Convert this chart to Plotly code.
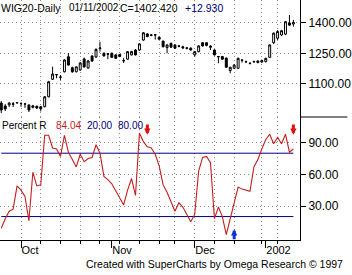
import plotly.graph_objects as go

# ---------------- data ----------------
bars = list(range(75))
opens = [1006, 992, 997, 1000, 1007, 1004, 1001, 997, 985, 990, 988, 988, 1037, 1123, 1145, 1133,
         1160, 1234, 1180, 1160, 1169, 1223, 1179, 1238, 1233, 1274, 1251, 1248, 1251, 1243, 1245,
         1215, 1222, 1243, 1267, 1267, 1316, 1346, 1341, 1342, 1330, 1311, 1279, 1300, 1292, 1287,
         1283, 1277, 1276, 1243, 1259, 1303, 1303, 1280, 1267, 1235, 1235, 1227, 1166, 1177, 1177,
         1218, 1210, 1202, 1209, 1205, 1208, 1210, 1231, 1303, 1325, 1341, 1345, 1400, 1395]
highs = [1016, 1001, 1011, 1011, 1010, 1006, 1002, 999, 997, 994, 992, 1040, 1115, 1185, 1147, 1144,
         1222, 1252, 1185, 1187, 1208, 1230, 1218, 1240, 1275, 1308, 1255, 1249, 1254, 1246, 1248,
         1228, 1262, 1263, 1272, 1300, 1355, 1350, 1346, 1342, 1333, 1313, 1295, 1303, 1295, 1292,
         1288, 1282, 1280, 1262, 1290, 1306, 1306, 1290, 1270, 1236, 1238, 1230, 1184, 1197, 1230,
         1220, 1215, 1206, 1215, 1216, 1220, 1229, 1295, 1353, 1365, 1366, 1410, 1439, 1415]
lows = [957, 967, 987, 987, 1004, 988, 982, 962, 980, 977, 965, 985, 1034, 1120, 1128, 1120,
        1157, 1190, 1155, 1157, 1165, 1180, 1175, 1208, 1228, 1259, 1235, 1222, 1228, 1223, 1232,
        1203, 1218, 1240, 1240, 1262, 1312, 1330, 1335, 1318, 1318, 1280, 1251, 1278, 1273, 1280,
        1272, 1270, 1264, 1234, 1255, 1284, 1285, 1267, 1240, 1202, 1218, 1180, 1153, 1174, 1174,
        1205, 1203, 1196, 1204, 1202, 1203, 1206, 1228, 1297, 1316, 1336, 1340, 1385, 1382]
closes = [972, 977, 1006, 1002, 1008, 1005, 1002, 972, 992, 982, 978, 1037, 1111, 1149, 1146, 1134,
          1218, 1193, 1160, 1184, 1203, 1184, 1213, 1213, 1270, 1277, 1238, 1247, 1231, 1226, 1235,
          1214, 1259, 1259, 1243, 1297, 1352, 1333, 1340, 1341, 1320, 1283, 1292, 1281, 1276, 1286,
          1278, 1276, 1267, 1259, 1287, 1287, 1290, 1286, 1243, 1234, 1222, 1182, 1182, 1193, 1226,
          1217, 1209, 1201, 1210, 1213, 1215, 1226, 1292, 1350, 1358, 1362, 1406, 1389.49, 1402.42]
pct_r = [9, 18, 25, 27, 49, 45, 39, 16, 62, 49, 50, 97, 97, 85, 84, 77, 97, 81, 74, 67, 79, 72, 75,
         76, 88, 80, 58, 55, 51, 44, 37, 31, 45, 56, 40, 99, 91, 86, 85, 79, 68, 50, 43, 33, 25, 33,
         29, 22, 15, 22, 63, 76, 77, 71, 18, 29, 20, 3, 19, 35, 48, 46, 45, 44, 67, 74, 84, 93, 98,
         89, 95, 89, 98, 81, 84.04]
lower_band = 20.00
upper_band = 80.00
sell_signals = [37, 74]
buy_signals = [59]
month_pos = [5, 28, 49, 67]
month_labels = ["Oct", "Nov", "Dec", "2002"]
week_pos = [5, 10, 15, 20, 25, 30, 35, 40, 44, 49, 54, 59, 66, 70]
price_ticks = [1100, 1250, 1400]
pr_ticks = [30, 60, 90]
symbol = "WIG20-Daily"
last_date = "01/11/2002"

FONT = "Liberation Sans, Arial, sans-serif"
NAVY = "#000080"
RED = "#C41E1E"
GRID = "#8a8a8a"

fig = go.Figure()
fig.add_trace(go.Candlestick(
    x=bars, open=opens, high=highs, low=lows, close=closes,
    increasing=dict(fillcolor="white", line=dict(color="black", width=1)),
    decreasing=dict(fillcolor="black", line=dict(color="black", width=1)),
    whiskerwidth=0, xaxis="x", yaxis="y", showlegend=False, hoverinfo="skip"))

fig.add_trace(go.Scatter(x=[bars[0], bars[-1]], y=[upper_band, upper_band], mode="lines",
                         line=dict(color=NAVY, width=1), xaxis="x2", yaxis="y2", showlegend=False))
fig.add_trace(go.Scatter(x=[bars[0], bars[-1]], y=[lower_band, lower_band], mode="lines",
                         line=dict(color=NAVY, width=1), xaxis="x2", yaxis="y2", showlegend=False))
fig.add_trace(go.Scatter(x=bars, y=pct_r, mode="lines", line=dict(color=RED, width=1.1),
                         xaxis="x2", yaxis="y2", showlegend=False))

for s in sell_signals:
    fig.add_annotation(x=s, y=97.5, ax=s, ay=108.5, xref="x2", yref="y2", axref="x2", ayref="y2",
                       showarrow=True, arrowhead=2, arrowsize=0.42, arrowwidth=3, arrowcolor="#E01010", text="")
for b in buy_signals:
    fig.add_annotation(x=b, y=8, ax=b, ay=-3, xref="x2", yref="y2", axref="x2", ayref="y2",
                       showarrow=True, arrowhead=2, arrowsize=0.42, arrowwidth=3, arrowcolor="#1030D0", text="")

xr = [-0.325, 75.675]
common_x = dict(range=xr, showgrid=True, gridcolor=GRID, griddash="1px,3px", gridwidth=1,
                zeroline=False, fixedrange=True, tickvals=week_pos)
axis_font = dict(size=12, color="black")
fig.update_layout(
    width=352, height=275, margin=dict(l=0, r=48, t=0, b=35),
    paper_bgcolor="white", plot_bgcolor="white",
    font=dict(family=FONT, size=10, color="black"),
    xaxis=dict(domain=[0, 1], anchor="y", showticklabels=False, ticks="",
               rangeslider=dict(visible=False), **common_x),
    xaxis2=dict(domain=[0, 1], anchor="y2", showline=True, linecolor="black", linewidth=1,
                showticklabels=False, ticks="outside", ticklen=3, tickcolor="black",
                **common_x),
    xaxis3=dict(domain=[0, 1], anchor="y2", overlaying="x2", range=xr, tickvals=month_pos,
                ticktext=month_labels, ticks="outside", ticklen=7, tickcolor="black",
                ticklabelposition="outside right", showgrid=False, zeroline=False,
                tickfont=dict(size=11, color="black")),
    yaxis=dict(domain=[0.5125, 1], side="right", range=[937.5, 1513], tickvals=price_ticks,
               ticktext=[f"{v:.2f}" for v in price_ticks], ticks="outside", ticklen=5,
               tickcolor="black", showline=True, linecolor="black", linewidth=1,
               showgrid=True, gridcolor=GRID, griddash="1px,3px", zeroline=False,
               tickfont=axis_font),
    yaxis2=dict(domain=[0, 0.5125], side="right", range=[-2.2, 114.3], tickvals=pr_ticks,
                ticktext=[f"{v:.2f}" for v in pr_ticks], ticks="outside", ticklen=5,
                tickcolor="black", showline=True, linecolor="black", linewidth=1,
                showgrid=True, gridcolor=GRID, griddash="1px,3px", zeroline=False,
                tickfont=axis_font),
)
fig.add_trace(go.Scatter(x=[bars[0]], y=[None], xaxis="x3", yaxis="y2", showlegend=False))

fig.add_shape(type="line", xref="paper", yref="paper", x0=1, x1=352 / 304, y0=0.5125, y1=0.5125,
              line=dict(color="black", width=1))

change = closes[-1] - closes[-2]


def label(xpx, ypx, text, color, size=10.5):
    fig.add_annotation(x=xpx / 304, y=1 - ypx / 240, xref="paper", yref="paper", xanchor="left",
                       yanchor="middle", text=text, showarrow=False, borderpad=0,
                       font=dict(size=size, color=color))


label(0, 8, symbol, "black")
label(69, 8, last_date, "black", 10)
label(121, 8, f"C={closes[-1]:.3f}", "black")
label(186, 8, f"{change:+.3f}", NAVY)

label(1, 125, "Percent R", "black", 10)
label(56, 125, f"{pct_r[-1]:.2f}", RED, 10)
label(87, 125, f"{lower_band:.2f}", NAVY, 10)
label(119, 125, f"{upper_band:.2f}", NAVY, 10)

fig.add_annotation(x=350 / 304, y=(240 - 264) / 240, xref="paper", yref="paper", xanchor="right",
                   yanchor="middle", text="Created with SuperCharts by Omega Research © 1997",
                   showarrow=False, font=dict(size=10.5, color="black"))

fig.write_html("out.html")
